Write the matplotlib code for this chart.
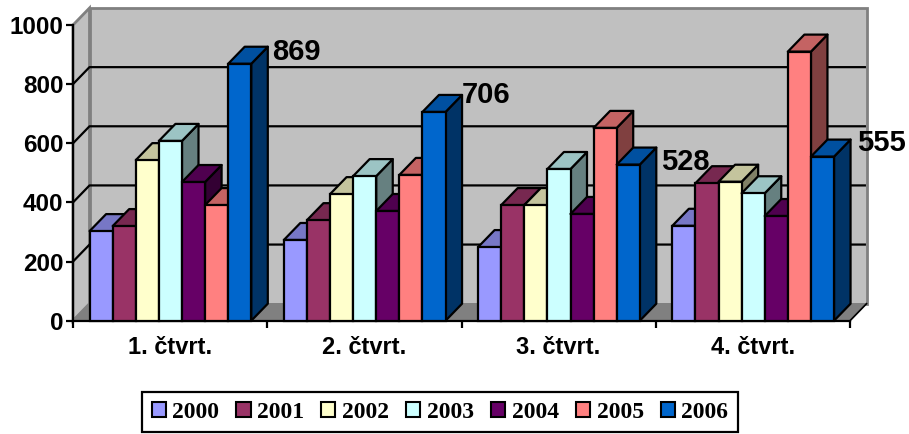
import matplotlib
matplotlib.use("Agg")
import matplotlib.pyplot as plt
from matplotlib.patches import Polygon, Patch

plt.rcParams['font.family'] = ['Liberation Sans', 'DejaVu Sans']

quarters = ['1. čtvrt.', '2. čtvrt.', '3. čtvrt.', '4. čtvrt.']
years = ['2000', '2001', '2002', '2003', '2004', '2005', '2006']
v2000 = [303, 273, 249, 321]
v2001 = [320, 340, 391, 465]
v2002 = [543, 428, 391, 470]
v2003 = [608, 489, 513, 431]
v2004 = [469, 371, 361, 354]
v2005 = [391, 493, 652, 910]
v2006 = [869, 706, 528, 555]
series = [v2000, v2001, v2002, v2003, v2004, v2005, v2006]

front_cols = ['#9999FF', '#993366', '#FFFFCC', '#CCFFFF', '#660066', '#FF8080', '#0066CC']
top_cols = ['#7777C6', '#772850', '#C4C49D', '#9CC4C4', '#4F004F', '#C46363', '#0050A0']
side_cols = ['#4D4D80', '#4D1A33', '#808066', '#668080', '#330033', '#804040', '#003366']

W, H = 909, 434
fig = plt.figure(figsize=(W / 100, H / 100), dpi=100, facecolor='white')
ax = fig.add_axes([73 / W, (H - 320.7) / H, 777 / W, 295.7 / H])
ax.set_xlim(0, 4)
ax.set_ylim(0, 1000)
ax.patch.set_visible(False)

# depth of the fake 3d, in data units
dx = 16.5 / (777 / 4)
dy = 17 / 0.2957
bar_w = 23.1 / (777 / 4)
gap = 16.6 / (777 / 4)
lw = 1.6

# walls and floor
ax.add_patch(Polygon([(dx, dy), (4 + dx, dy), (4 + dx, 1000 + dy), (dx, 1000 + dy)], fc='#C0C0C0',
                     ec='#808080', lw=2, clip_on=False, zorder=1))
ax.add_patch(Polygon([(0, 0), (dx, dy), (dx, 1000 + dy), (0, 1000)], fc='#C0C0C0',
                     ec='#808080', lw=2, clip_on=False, zorder=1))
ax.add_patch(Polygon([(0, 0), (4, 0), (4 + dx, dy), (dx, dy)], fc='#808080',
                     ec='#808080', lw=1, clip_on=False, zorder=1))

# gridlines run over the left wall and the back wall
for v in [200, 400, 600, 800]:
    ax.plot([0, dx, 4 + dx * 0.9], [v, v + dy, v + dy], color='black', lw=lw, clip_on=False, zorder=2)
ax.plot([4, 4 + dx], [0, dy], color='black', lw=1.2, clip_on=False, zorder=2)

z = 3
for i in range(len(quarters)):
    for j in range(len(series)):
        x0 = i + gap + j * bar_w
        x1 = x0 + bar_w
        v = series[j][i]
        ax.add_patch(Polygon([(x1, 0), (x1 + dx, dy), (x1 + dx, v + dy), (x1, v)], fc=side_cols[j],
                             ec='black', lw=lw, joinstyle='round', clip_on=False, zorder=z))
        ax.add_patch(Polygon([(x0, v), (x1, v), (x1 + dx, v + dy), (x0 + dx, v + dy)], fc=top_cols[j],
                             ec='black', lw=lw, joinstyle='round', clip_on=False, zorder=z + 1))
        ax.bar(x0, v, bar_w, align='edge', color=front_cols[j], edgecolor='black', lw=lw,
               clip_on=False, zorder=z + 2)
        z += 3

# data labels of the last series, pixel offsets from the back top corner
label_off = [(4, -5), (0, 0), (5, -14), (6, -3)]
for i in range(len(quarters)):
    x = i + gap + 7 * bar_w + dx
    ax.annotate(str(v2006[i]), (x, v2006[i] + dy), xytext=label_off[i], textcoords='offset pixels',
                fontsize=21, fontweight='bold', va='center', ha='left', zorder=100, annotation_clip=False)

for s in ['top', 'right']:
    ax.spines[s].set_visible(False)
for s in ['left', 'bottom']:
    ax.spines[s].set_linewidth(lw)
    ax.spines[s].set_zorder(2)

ax.set_yticks([0, 200, 400, 600, 800, 1000])
ax.set_yticklabels(['0', '200', '400', '600', '800', '1000'], fontsize=17.5, fontweight='bold')
ax.set_xticks([0, 1, 2, 3, 4])
ax.set_xticklabels([])
ax.set_xticks([0.5, 1.5, 2.5, 3.5], minor=True)
ax.set_xticklabels(quarters, minor=True, fontsize=17, fontweight='bold')
ax.tick_params(axis='x', which='minor', length=0, pad=11)
ax.tick_params(axis='both', which='major', length=5, width=lw, pad=2)

handles = [Patch(fc=c, ec='black', lw=1.5) for c in front_cols]
leg = fig.legend(handles, years, ncol=7, loc='center', bbox_to_anchor=(440 / W, (H - 412) / H),
                 frameon=True, fancybox=False, edgecolor='black', framealpha=1,
                 prop={'family': 'Liberation Serif', 'weight': 'bold', 'size': 17},
                 handlelength=0.6, handleheight=0.6, handletextpad=0.28, columnspacing=0.72,
                 borderpad=0.42, borderaxespad=0)
leg.get_frame().set_linewidth(1.6)

fig.savefig('out.png', dpi=100)
